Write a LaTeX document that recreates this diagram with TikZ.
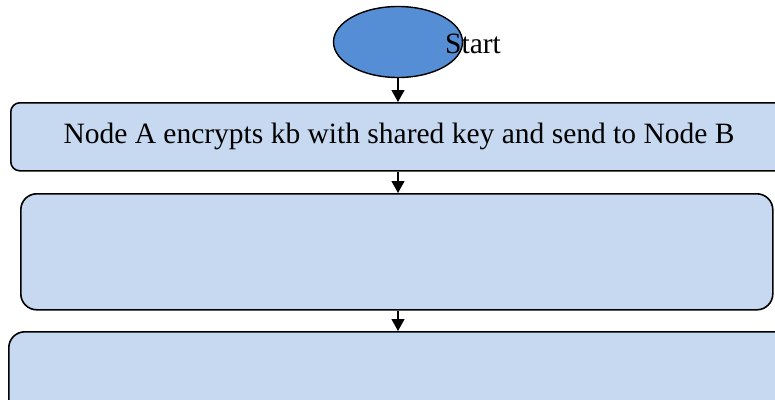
\documentclass[tikz,border=0pt]{standalone}
\usepackage{fontspec}
\setmainfont{Liberation Serif}
\usetikzlibrary{shapes.geometric,arrows.meta}
\definecolor{boxfill}{HTML}{C6D9F1}
\definecolor{startfill}{HTML}{558ED5}
\tikzset{
  flowbox/.style={draw=black, line width=1.6pt, fill=boxfill, rounded corners=#1},
  flowarrow/.style={-{Triangle[length=12pt,width=13pt]}, line width=1.2pt, black},
  txt/.style={font=\fontsize{29.5}{34}\selectfont, inner sep=0pt}
}
\begin{document}
\begin{tikzpicture}[x=1pt,y=-1pt]
\useasboundingbox (0,0) rectangle (775,399);
\node[ellipse, draw=black, line width=1.4pt, fill=startfill, minimum width=129pt, minimum height=71pt, inner sep=0pt] (start) at (398,42) {};
\node[txt, anchor=west] (startlabel) at (445,44) {Start};
\node[flowbox=9pt, minimum width=790pt, minimum height=68pt, anchor=north west, inner sep=0pt] (boxa) at (10,102) {};
\node[txt] (boxatext) at (399,136) {Node A encrypts kb with shared key and send to Node B};
\node[flowbox=16pt, minimum width=752pt, minimum height=116pt, anchor=north west, inner sep=0pt] (boxb) at (20,193) {};
\node[flowbox=16pt, minimum width=800pt, minimum height=120pt, anchor=north west, inner sep=0pt] (boxc) at (8,331) {};
\draw[flowarrow] (start.south) -- (start.south |- boxa.north);
\draw[flowarrow] (start.south |- boxa.south) -- (start.south |- boxb.north);
\draw[flowarrow] (start.south |- boxb.south) -- (start.south |- boxc.north);
\end{tikzpicture}
\end{document}
